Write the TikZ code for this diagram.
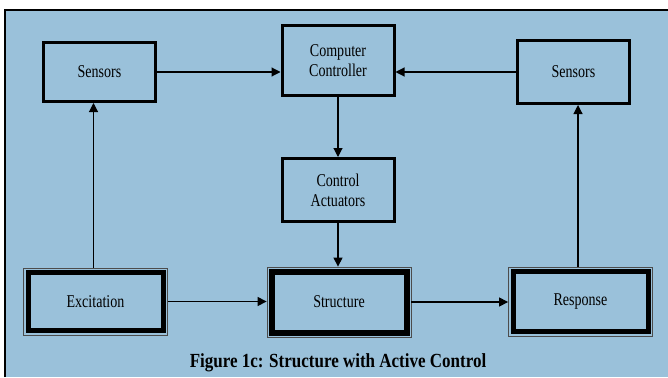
\documentclass[tikz,border=0pt]{standalone}
\usepackage{fontspec}
\setmainfont[FakeStretch=0.78]{Liberation Serif}
\newfontfamily\capfont[FakeStretch=0.85]{Liberation Serif}
\usepackage{xcolor}
\usetikzlibrary{arrows.meta, positioning, calc}
\definecolor{panelblue}{RGB}{154,193,218}

\begin{document}
\begin{tikzpicture}[x=1pt, y=-1pt,
		every node/.style={align=center, font=\fontsize{18}{20}\selectfont, inner sep=0pt}, % Text in every box
		box/.style={draw, line width=3pt, minimum width=112pt, minimum height=60pt}, % Plain thick box
		framed/.style={draw=black!70, line width=0.8pt, minimum width=144pt, minimum height=67pt,
			path picture={\draw[draw=black, line width=#1] ([shift={(4.5pt,-4.5pt)}]path picture bounding box.north west) rectangle ([shift={(-4.5pt,4.5pt)}]path picture bounding box.south east);}}, % Thin frame round a thick one
		framed/.default=5pt,
		arr/.style={line width=1.1pt, -{Triangle[length=9pt,width=9pt]}} % Connector
		]
		\useasboundingbox (0,0) rectangle (668,377);
		% Panel
		\fill[panelblue] (5,10) rectangle (668,377);
		\draw[line width=2pt] (5,377) -- (5,10) -- (668,10);
		% Top row
		\node[box, minimum height=59pt] (sensL) at (99.5,72) {Sensors};
		\node[box, minimum height=70pt] (ctrl) at (338,60.5) {Computer\\Controller};
		\node[box, minimum height=63pt] (sensR) at (573.5,72) {Sensors};
		% Middle
		\node[box, minimum height=63pt] (act) at (338,190) {Control\\Actuators};
		% Bottom row
		\node[framed] (exc) at (95.5,301.5) {Excitation};
		\node[framed=6pt, minimum height=70pt] (struc) at (339,302) {Structure};
		\node[framed, minimum height=69pt] (resp) at (580.5,301.5) {Response};
		% Caption
		\node[font=\capfont\bfseries\fontsize{20}{22}\selectfont] (cap) at (338,363) {Figure 1c: Structure with Active Control};
		% Connectors
		\draw[arr] (sensL.east) -- (sensL.east -| ctrl.west);
		\draw[arr] (sensR.west) -- (sensR.west -| ctrl.east);
		\draw[arr] (ctrl.south) -- (act.north);
		\draw[arr] (act.south) -- (act.south |- struc.north);
		\draw[arr] (exc.east) -- (exc.east -| struc.west);
		\draw[arr] (struc.east) -- (struc.east -| resp.west);
		\draw[arr] ([xshift=-6pt]sensL.south |- exc.north) -- ([xshift=-6pt]sensL.south);
		\draw[arr] ([xshift=4.5pt]sensR.south |- resp.north) -- ([xshift=4.5pt]sensR.south);
	\end{tikzpicture}
\end{document}
